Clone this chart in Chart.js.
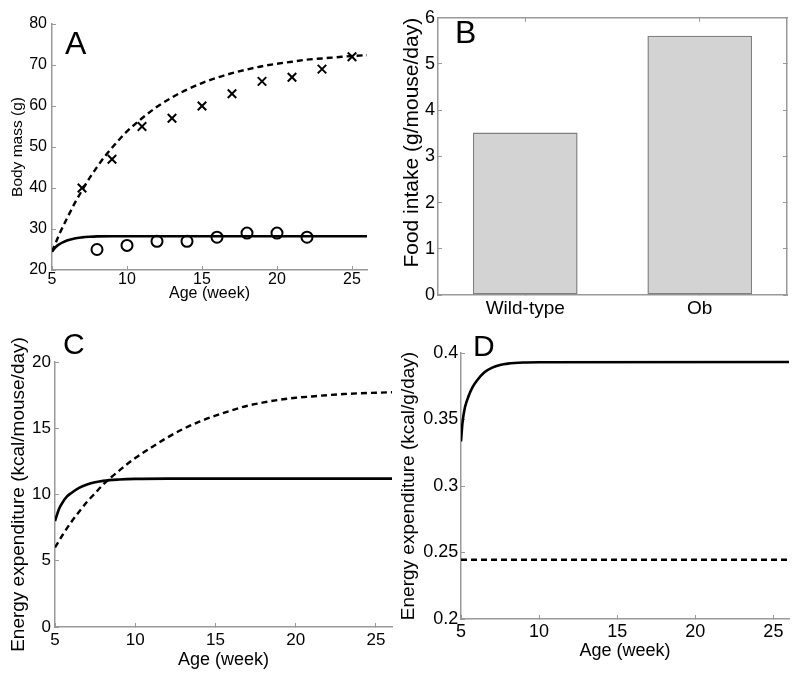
<!DOCTYPE html>
<html><head><meta charset="utf-8">
<script src="https://cdn.jsdelivr.net/npm/chart.js@4.4.1/dist/chart.umd.min.js"></script>
<style>
html,body{margin:0;padding:0;background:#fff;}
#wrap{position:relative;width:800px;height:676px;overflow:hidden;background:#fff;}
canvas{position:absolute;}
</style></head><body>
<div id="wrap">
<canvas id="cA" width="390" height="320" style="left:0;top:0;width:390px;height:320px"></canvas>
<canvas id="cB" width="410" height="320" style="left:390px;top:0;width:410px;height:320px"></canvas>
<canvas id="cC" width="400" height="356" style="left:0;top:320px;width:400px;height:356px"></canvas>
<canvas id="cD" width="405" height="356" style="left:395px;top:320px;width:405px;height:356px"></canvas>
</div>
<script>
// ---------- tick labels ----------
const ageTicks = [5, 10, 15, 20, 25];
const massTicks = [20, 30, 40, 50, 60, 70, 80];
const intakeTicks = [0, 1, 2, 3, 4, 5, 6];
const eeTicks = [0, 5, 10, 15, 20];
const eePerGramTicks = [0.2, 0.25, 0.3, 0.35, 0.4];

// ---------- panel A: body mass ----------
const obModelAge  = [5, 5.5, 6, 6.5, 7, 7.5, 8, 8.5, 9, 9.5, 10, 11, 12, 13, 14, 15, 16, 17, 18, 19, 20, 21, 22, 23, 24, 25, 26];
const obModelMass = [24.5, 28.8, 32.6, 36.2, 39.4, 42.4, 45.1, 47.6, 49.8, 51.9, 53.8, 57.0, 59.8, 62.1, 64.0, 65.6, 66.9, 68.0, 68.9, 69.7, 70.3, 70.8, 71.3, 71.6, 71.9, 72.2, 72.4];
const wtModelAge  = [5, 5.25, 5.5, 5.75, 6, 6.5, 7, 7.5, 8, 9, 10, 26];
const wtModelMass = [24.5, 25.6, 26.3, 26.8, 27.2, 27.7, 27.95, 28.1, 28.2, 28.25, 28.25, 28.25];
const obDataAge  = [7, 9, 11, 13, 15, 17, 19, 21, 23, 25];
const obDataMass = [40, 47, 55, 57, 60, 63, 66, 67, 69, 72];
const wtDataAge  = [8, 10, 12, 14, 16, 18, 20, 22];
const wtDataMass = [25, 26, 27, 27, 28, 29, 29, 28];

// ---------- panel B: food intake ----------
const groups = ['Wild-type', 'Ob'];
const foodIntake = [3.52, 5.61];

// ---------- panel C: energy expenditure per mouse ----------
const eeObAge = [5, 5.5, 6, 6.5, 7, 7.5, 8, 8.5, 9, 9.5, 10, 11, 12, 13, 14, 15, 16, 17, 18, 19, 20, 21, 22, 23, 24, 25, 26];
const eeObVal = [6.0, 7.0, 7.9, 8.7, 9.45, 10.1, 10.75, 11.3, 11.8, 12.3, 12.75, 13.55, 14.3, 14.95, 15.5, 15.95, 16.35, 16.7, 16.95, 17.15, 17.3, 17.4, 17.5, 17.58, 17.64, 17.68, 17.72];
const eeWtAge = [5, 5.25, 5.5, 5.75, 6, 6.5, 7, 7.5, 8, 9, 10, 12, 26];
const eeWtVal = [8.0, 8.9, 9.45, 9.85, 10.1, 10.5, 10.75, 10.92, 11.03, 11.13, 11.18, 11.2, 11.2];

// ---------- panel D: energy expenditure per gram ----------
const eegWtAge = [5, 5.1, 5.25, 5.5, 5.75, 6, 6.5, 7, 7.5, 8, 9, 10, 26];
const eegWtVal = [0.3335, 0.348, 0.359, 0.368, 0.3745, 0.379, 0.3855, 0.389, 0.391, 0.392, 0.3928, 0.393, 0.3932];
const eegObAge = [5, 26];
const eegObVal = [0.2445, 0.2445];

// ---------- helpers ----------
const FONT = '"Liberation Sans", Arial, Helvetica, sans-serif';
Chart.defaults.font.family = FONT;
Chart.defaults.color = '#000';
const AXIS = '#999999';
const pts = (xs, ys) => xs.map((x, i) => ({x: x, y: ys[i]}));

const letterPlugin = {
  id: 'letter',
  afterDraw(chart, args, o) {
    const ctx = chart.ctx;
    ctx.save();
    ctx.font = o.size + 'px ' + FONT;
    ctx.fillStyle = '#000';
    ctx.textBaseline = 'alphabetic';
    ctx.textAlign = 'left';
    ctx.fillText(o.text, o.x, o.y);
    ctx.restore();
  }
};

function linAxis(o) {
  const ax = {
    type: 'linear',
    position: o.position,
    min: o.min, max: o.max,
    display: true,
    afterBuildTicks: s => { s.ticks = o.ticks.map(v => ({value: v})); },
    afterFit: s => { if (o.position === 'left' || o.position === 'right') s.width = o.size; else s.height = o.size; },
    border: {display: true, color: AXIS, width: 1.5},
    grid: {display: true, drawOnChartArea: false, drawTicks: true, color: AXIS, tickColor: AXIS, tickLength: -4, lineWidth: 1},
    ticks: {display: o.showLabels !== false, font: {size: o.tickSize || 16}, padding: o.tickPad || 4, color: '#000', maxRotation: 0, autoSkip: false, callback: v => String(v)},
    title: o.title ? {display: true, text: o.title, font: {size: o.titleSize}, color: '#000', align: o.titleAlign || 'center', padding: o.titlePad} : {display: false}
  };
  return ax;
}

const lineDs = (data, dashed, w) => ({
  data: data, showLine: true, borderColor: '#000', backgroundColor: '#000',
  borderWidth: w || 2.4, borderDash: dashed ? [6, 4] : [], pointRadius: 0, pointHoverRadius: 0,
  cubicInterpolationMode: 'monotone', fill: false
});

const baseOpts = (pad, letter) => ({
  responsive: false, maintainAspectRatio: false, animation: false,
  layout: {padding: pad},
  plugins: {legend: {display: false}, tooltip: {enabled: false}, letter: letter}
});

// ---------- A ----------
new Chart(document.getElementById('cA'), {
  type: 'scatter',
  data: {datasets: [
    lineDs(pts(obModelAge, obModelMass), true, 2.4),
    lineDs(pts(wtModelAge, wtModelMass), false, 2.6),
    {data: pts(obDataAge, obDataMass), showLine: false, pointStyle: 'crossRot', pointRadius: 6, borderColor: '#000', borderWidth: 2},
    {data: pts(wtDataAge, wtDataMass), showLine: false, pointStyle: 'circle', pointRadius: 5.5, borderColor: '#000', backgroundColor: 'rgba(0,0,0,0)', borderWidth: 2}
  ]},
  options: Object.assign(baseOpts({left: 0, top: 24, right: 23, bottom: 0}, {text: 'A', x: 65, y: 54, size: 32}), {
    scales: {
      x: linAxis({position: 'bottom', min: 5, max: 26, ticks: ageTicks, size: 50, tickSize: 16, tickPad: 4, title: 'Age (week)', titleSize: 16, titlePad: {top: 0, bottom: 17}}),
      y: linAxis({position: 'left', min: 20, max: 80, ticks: massTicks, size: 52, tickSize: 16, tickPad: 9, title: 'Body mass (g)', titleSize: 15.5, titlePad: {top: 8.3, bottom: 0}})
    }
  }),
  plugins: [letterPlugin]
});

// ---------- B ----------
new Chart(document.getElementById('cB'), {
  type: 'bar',
  data: {labels: groups, datasets: [{data: foodIntake, backgroundColor: '#d3d3d3', borderColor: '#7f7f7f', borderWidth: 1.5, borderSkipped: false, barPercentage: 0.6, categoryPercentage: 1}]},
  options: Object.assign(baseOpts({left: 0, top: 14, right: 13, bottom: 0}, {text: 'B', x: 65, y: 43, size: 32}), {
    scales: {
      x: {type: 'category', position: 'bottom', offset: true,
          afterFit: s => { s.height = 25; },
          border: {display: true, color: AXIS, width: 1.5},
          grid: {display: true, offset: false, drawOnChartArea: false, color: AXIS, tickLength: -4},
          ticks: {font: {size: 19}, padding: 6.8, color: '#000', maxRotation: 0}},
      x2: {type: 'category', position: 'top', labels: groups, offset: true,
          afterFit: s => { s.height = 0; },
          border: {display: true, color: AXIS, width: 1.5},
          grid: {display: true, offset: false, drawOnChartArea: false, color: AXIS, tickLength: -4},
          ticks: {display: false}},
      y: linAxis({position: 'left', min: 0, max: 6, ticks: intakeTicks, size: 48, tickSize: 18, tickPad: 7, title: 'Food intake (g/mouse/day)', titleSize: 21, titleAlign: 'end', titlePad: {top: 10, bottom: 0}}),
      y2: linAxis({position: 'right', min: 0, max: 6, ticks: intakeTicks, size: 0, showLabels: false})
    }
  }),
  plugins: [letterPlugin]
});

// ---------- C ----------
new Chart(document.getElementById('cC'), {
  type: 'scatter',
  data: {datasets: [
    lineDs(pts(eeObAge, eeObVal), true, 2.4),
    lineDs(pts(eeWtAge, eeWtVal), false, 2.6)
  ]},
  options: Object.assign(baseOpts({left: 0, top: 42, right: 8, bottom: 0}, {text: 'C', x: 63, y: 34, size: 30}), {
    scales: {
      x: linAxis({position: 'bottom', min: 5, max: 26, ticks: ageTicks, size: 49, tickSize: 17, tickPad: 7, title: 'Age (week)', titleSize: 18, titlePad: {top: 0, bottom: 5.2}}),
      y: linAxis({position: 'left', min: 0, max: 20, ticks: eeTicks, size: 55, tickSize: 17, tickPad: 8, title: 'Energy expenditure (kcal/mouse/day)', titleSize: 19, titlePad: {top: 7.6, bottom: 0}})
    }
  }),
  plugins: [letterPlugin]
});

// ---------- D ----------
new Chart(document.getElementById('cD'), {
  type: 'scatter',
  data: {datasets: [
    lineDs(pts(eegWtAge, eegWtVal), false, 2.6),
    lineDs(pts(eegObAge, eegObVal), true, 2.4)
  ]},
  options: Object.assign(baseOpts({left: 0, top: 33, right: 11, bottom: 0}, {text: 'D', x: 78, y: 36, size: 30}), {
    scales: {
      x: linAxis({position: 'bottom', min: 5, max: 26, ticks: ageTicks, size: 57, tickSize: 18, tickPad: 5.9, title: 'Age (week)', titleSize: 18, titlePad: {top: 0, bottom: 14.5}}),
      y: linAxis({position: 'left', min: 0.2, max: 0.4, ticks: eePerGramTicks, size: 66, tickSize: 18, tickPad: 6.7, title: 'Energy expenditure (kcal/g/day)', titleSize: 19, titlePad: {top: 2.6, bottom: 0}})
    }
  }),
  plugins: [letterPlugin]
});
</script>
</body></html>
